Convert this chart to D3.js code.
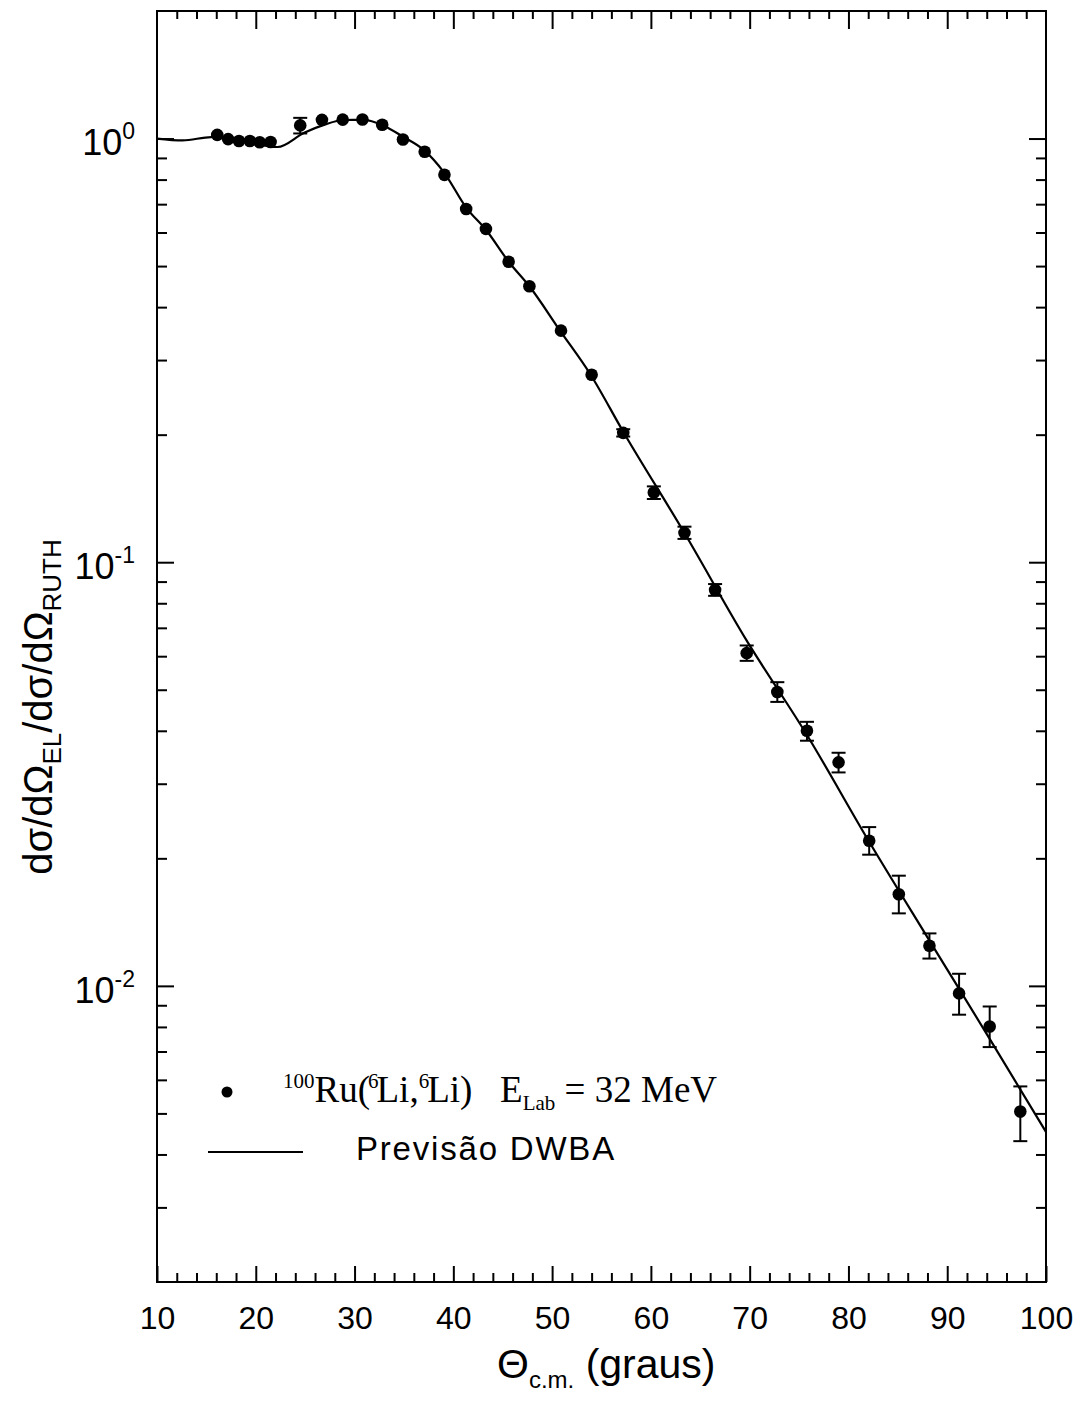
<!DOCTYPE html>
<html><head><meta charset="utf-8">
<script src="https://cdn.jsdelivr.net/npm/d3@7"></script>
<style>
body{margin:0;background:#fff}
text{fill:#000}
</style>
</head><body>
<svg id="chart" width="1083" height="1403" xmlns="http://www.w3.org/2000/svg"></svg>
<script>
// ---- data ----
const pointTheta = [16.1, 17.2, 18.3, 19.4, 20.4, 21.5, 24.5, 26.7, 28.8, 30.8, 32.8, 34.9, 37.1, 39.1, 41.3, 43.3, 45.6, 47.7, 50.9, 54.0, 57.2, 60.3, 63.4, 66.5, 69.7, 72.8, 75.8, 79.0, 82.1, 85.1, 88.2, 91.2, 94.3, 97.4];
const pointValue = [1.02, 0.997, 0.987, 0.987, 0.980, 0.981, 1.074, 1.107, 1.108, 1.109, 1.078, 0.995, 0.931, 0.821, 0.682, 0.612, 0.512, 0.448, 0.352, 0.277, 0.202, 0.146, 0.1173, 0.0860, 0.0610, 0.0494, 0.0400, 0.0337, 0.0220, 0.01646, 0.01244, 0.00960, 0.00802, 0.00505];
const errLow  = [null, null, null, null, null, null, 1.028, null, null, null, null, null, null, null, null, null, null, null, null, null, 0.198, 0.141, 0.1135, 0.0833, 0.0585, 0.0468, 0.0379, 0.0319, 0.0204, 0.01483, 0.0116, 0.00855, 0.00717, 0.0043];
const errHigh = [null, null, null, null, null, null, 1.119, null, null, null, null, null, null, null, null, null, null, null, null, null, 0.206, 0.151, 0.1213, 0.0888, 0.0636, 0.0521, 0.0420, 0.0355, 0.0237, 0.0182, 0.0133, 0.01068, 0.00894, 0.00579];
const curveTheta = [10, 12.6, 15.5, 18.2, 22.2, 24.9, 26.9, 28.9, 30.9, 32.9, 34.9, 37.0, 39.1, 41.3, 43.3, 45.6, 47.7, 50.8, 53.9, 57.2, 63.4, 69.7, 75.8, 82.1, 88.2, 94.3, 100];
const curveValue = [1.000, 0.990, 1.008, 0.994, 0.955, 1.032, 1.077, 1.106, 1.107, 1.074, 1.010, 0.940, 0.829, 0.687, 0.609, 0.512, 0.448, 0.352, 0.277, 0.2032, 0.1172, 0.0653, 0.0391, 0.02188, 0.01279, 0.00750, 0.00452];
const xMajorTicks = [10, 20, 30, 40, 50, 60, 70, 80, 90, 100];
const yMajorTicks = [1, 0.1, 0.01];
const yMajorExponents = ["0", "-1", "-2"];
const legendPoints = "Ru";
const legendCurve = "Previsão DWBA";

// ---- layout ----
const SANS = '"Liberation Sans", Arial, Helvetica, sans-serif';
const SERIF = '"Liberation Serif", "Times New Roman", serif';
const L = 157, R = 1046, T = 11, B = 1282;
const svg = d3.select("#chart").style("font-family", SANS);
const x = d3.scaleLinear().domain([10, 100]).range([L, R]);
const y = d3.scaleLog().domain([0.002, 2]).range([B, T]);

const xMinor = d3.range(10, 101, 2).filter(v => !xMajorTicks.includes(v));
const yMinor = [];
[0.001, 0.01, 0.1, 1].forEach(d => { for (let k = 2; k <= 9; k++) { const v = +(d * k).toPrecision(3); if (v > 0.002 && v < 2) yMinor.push(v); } });

function styleAxis(g) {
  g.select(".domain").remove();
  g.selectAll(".tick line").attr("stroke", "#000").attr("stroke-width", 2);
}

// bottom
svg.append("g").attr("transform", `translate(0,${B})`)
  .call(d3.axisBottom(x).tickValues(xMinor).tickSize(-9).tickFormat(""))
  .call(styleAxis);
svg.append("g").attr("transform", `translate(0,${B})`)
  .call(d3.axisBottom(x).tickValues(xMajorTicks).tickSize(-16).tickPadding(24).tickFormat(d3.format("d")))
  .call(styleAxis)
  .call(g => g.selectAll(".tick text").attr("fill", "#000")
    .style("font-size", "32px").style("font-family", SANS));
// top
svg.append("g").attr("transform", `translate(0,${T})`)
  .call(d3.axisTop(x).tickValues(xMinor).tickSize(-8).tickFormat(""))
  .call(styleAxis);
svg.append("g").attr("transform", `translate(0,${T})`)
  .call(d3.axisTop(x).tickValues(xMajorTicks.slice(1, -1)).tickSize(-18).tickFormat(""))
  .call(styleAxis);
// left
svg.append("g").attr("transform", `translate(${L},0)`)
  .call(d3.axisLeft(y).tickValues(yMinor).tickSize(-10).tickFormat(""))
  .call(styleAxis);
const leftMaj = svg.append("g").attr("transform", `translate(${L},0)`)
  .call(d3.axisLeft(y).tickValues(yMajorTicks).tickSize(-17).tickPadding(22).tickFormat(""))
  .call(styleAxis);
leftMaj.selectAll(".tick").each(function(d, i) {
  const t = d3.select(this).select("text").text(null)
    .attr("fill", "#000").attr("dy", "0.45em")
    .style("font-size", "36px").style("font-family", SANS);
  t.append("tspan").text("10");
  t.append("tspan").style("font-size", "23px").attr("dy", -16).text(yMajorExponents[i]);
});
// right
svg.append("g").attr("transform", `translate(${R},0)`)
  .call(d3.axisRight(y).tickValues(yMinor).tickSize(-10).tickFormat(""))
  .call(styleAxis);
svg.append("g").attr("transform", `translate(${R},0)`)
  .call(d3.axisRight(y).tickValues(yMajorTicks).tickSize(-17).tickFormat(""))
  .call(styleAxis);

// frame
svg.append("rect").attr("x", L).attr("y", T).attr("width", R - L).attr("height", B - T)
  .attr("fill", "none").attr("stroke", "#000").attr("stroke-width", 2);

// curve
const curveData = curveTheta.map((t, i) => [t, curveValue[i]]);
svg.append("path").datum(curveData)
  .attr("fill", "none").attr("stroke", "#000").attr("stroke-width", 2.2)
  .attr("d", d3.line().x(d => x(d[0])).y(d => y(d[1])).curve(d3.curveMonotoneX));

// error bars
const errData = pointTheta.map((t, i) => ({t, lo: errLow[i], hi: errHigh[i]})).filter(d => d.lo !== null);
const eg = svg.append("g").attr("stroke", "#000").attr("stroke-width", 2);
eg.selectAll("line.v").data(errData).join("line").attr("class", "v")
  .attr("x1", d => x(d.t)).attr("x2", d => x(d.t)).attr("y1", d => y(d.lo)).attr("y2", d => y(d.hi));
eg.selectAll("line.lo").data(errData).join("line").attr("class", "lo")
  .attr("x1", d => x(d.t) - 7).attr("x2", d => x(d.t) + 7).attr("y1", d => y(d.lo)).attr("y2", d => y(d.lo));
eg.selectAll("line.hi").data(errData).join("line").attr("class", "hi")
  .attr("x1", d => x(d.t) - 7).attr("x2", d => x(d.t) + 7).attr("y1", d => y(d.hi)).attr("y2", d => y(d.hi));

// points
svg.append("g").selectAll("circle").data(pointTheta).join("circle")
  .attr("cx", d => x(d)).attr("cy", (d, i) => y(pointValue[i])).attr("r", 6.3).attr("fill", "#000");

// legend
svg.append("circle").attr("cx", 227).attr("cy", 1092).attr("r", 5.5).attr("fill", "#000");
const lt = svg.append("text").attr("x", 283).attr("y", 1102)
  .style("font-family", SERIF).style("font-size", "37px")
  .style("white-space", "pre");
lt.append("tspan").style("font-size", "21px").attr("dy", -14).text("100");
lt.append("tspan").attr("dy", 14).text(legendPoints + "(");
lt.append("tspan").style("font-size", "21px").attr("dy", -14).attr("dx", -2).text("6");
lt.append("tspan").attr("dy", 14).attr("dx", -2).text("Li,");
lt.append("tspan").style("font-size", "21px").attr("dy", -14).text("6");
lt.append("tspan").attr("dy", 14).attr("dx", -2).text("Li)   E");
lt.append("tspan").style("font-size", "21px").attr("dy", 8).text("Lab");
lt.append("tspan").attr("dy", -8).text(" = 32 MeV");

svg.append("line").attr("x1", 208).attr("x2", 303).attr("y1", 1152).attr("y2", 1152)
  .attr("stroke", "#000").attr("stroke-width", 2);
svg.append("text").attr("x", 356).attr("y", 1160).style("font-size", "33px")
  .attr("letter-spacing", 1.8).text(legendCurve);

// x title
const xt = svg.append("text").attr("x", 497).attr("y", 1378).style("font-size", "41px").style("white-space", "pre");
xt.append("tspan").text("Θ");
xt.append("tspan").style("font-size", "24px").attr("dy", 10).text("c.m.");
xt.append("tspan").attr("dy", -10).text(" (graus)");

// y title
const yt = svg.append("text").attr("transform", "translate(52,707) rotate(-90)")
  .attr("text-anchor", "middle").style("font-size", "40px");
yt.append("tspan").text("dσ/dΩ");
yt.append("tspan").style("font-size", "26px").attr("dy", 9).text("EL");
yt.append("tspan").attr("dy", -9).text("/dσ/dΩ");
yt.append("tspan").style("font-size", "26px").attr("dy", 9).text("RUTH");
</script>
</body></html>
